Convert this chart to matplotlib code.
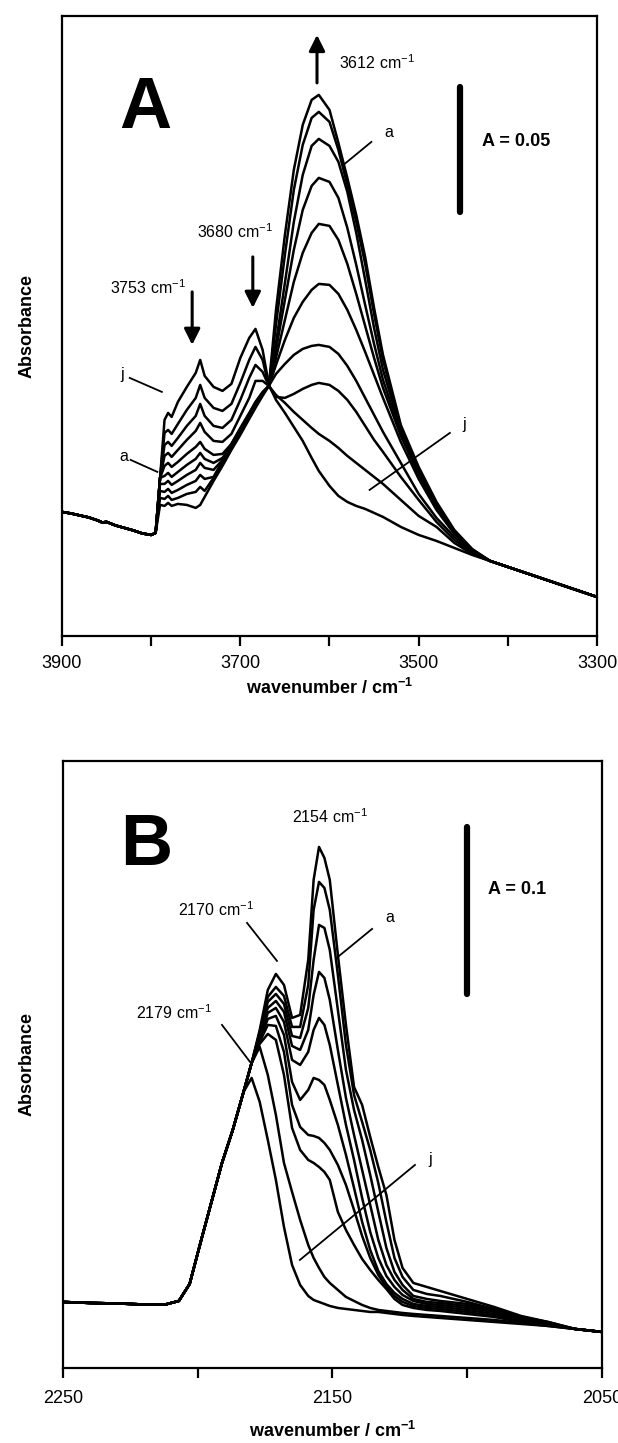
import numpy as np
import matplotlib
matplotlib.use('agg')
from matplotlib import pyplot as plt

plt.rcParams['font.family'] = ['Liberation Sans', 'DejaVu Sans']
plt.rcParams['mathtext.fontset'] = 'custom'
plt.rcParams['mathtext.rm'] = 'Liberation Sans'
plt.rcParams['mathtext.bf'] = 'Liberation Sans:bold'

# ---- panel A: OH stretching region (values in mA, i.e. 1e-3 absorbance) ----
oh_base_wn = [3900, 3890, 3880, 3870, 3860, 3855, 3850, 3840, 3830, 3820, 3810, 3800]
oh_base = [49.6, 49.0, 48.2, 47.4, 46.2, 45.4, 45.6, 44.2, 43.2, 42.2, 41.0, 40.4]

oh_wn = [3795, 3790, 3785, 3781, 3777, 3770, 3760, 3750, 3745, 3740, 3730, 3720,
         3710, 3700, 3690, 3683, 3675, 3668, 3660, 3650, 3640, 3630, 3620, 3612,
         3600, 3590, 3580, 3570, 3560, 3550, 3540, 3520, 3500, 3480, 3460, 3440]
oh_a = [41.2, 52.4, 52.0, 53.2, 52.0, 52.8, 52.4, 51.2, 52.4, 55.6, 62.0, 68.0,
        74.4, 80.4, 86.8, 91.2, 96.0, 100.0, 130.4, 160.4, 186.4, 204.4, 214.4, 216.4,
        210.4, 197.2, 183.2, 168.4, 151.6, 131.2, 112.4, 84.4, 67.6, 53.6, 42.4, 34.8]
oh_b = [41.2, 55.2, 54.8, 56.0, 54.4, 55.2, 56.8, 57.6, 59.6, 58.0, 63.2, 69.6,
        76.0, 82.0, 88.0, 92.4, 96.8, 100.0, 124.4, 152.4, 178.4, 196.4, 207.2, 209.6,
        205.6, 194.4, 180.4, 165.6, 148.8, 128.8, 110.4, 83.2, 66.8, 52.8, 42.0, 34.4]
oh_c = [41.2, 58.0, 57.6, 58.8, 57.2, 58.4, 60.4, 62.0, 64.4, 62.8, 63.6, 70.0,
        76.4, 82.4, 88.4, 92.8, 97.2, 100.0, 117.2, 141.2, 165.6, 184.4, 196.0, 198.8,
        196.0, 189.6, 177.6, 161.2, 142.4, 123.2, 106.4, 82.4, 66.4, 52.4, 41.6, 34.4]
oh_d = [41.2, 60.8, 60.8, 62.0, 60.4, 62.0, 64.4, 66.4, 69.2, 67.2, 66.4, 70.4,
        76.8, 82.8, 88.8, 93.2, 97.2, 100.0, 114.4, 134.4, 154.4, 170.4, 180.0, 183.2,
        181.6, 175.2, 163.2, 148.4, 132.4, 116.8, 102.4, 81.2, 65.6, 52.0, 41.6, 34.4]
oh_e = [41.2, 63.2, 64.0, 65.2, 63.6, 65.6, 68.4, 70.8, 73.2, 70.8, 69.2, 71.2,
        76.0, 82.4, 88.8, 93.2, 97.2, 100.0, 111.2, 126.4, 141.6, 153.2, 161.2, 164.8,
        164.0, 158.4, 148.8, 136.8, 124.0, 111.2, 99.2, 80.0, 64.4, 51.2, 41.2, 34.0]
oh_f = [41.2, 63.2, 68.0, 69.2, 67.6, 69.6, 72.8, 75.6, 77.6, 74.8, 72.4, 72.8,
        76.8, 83.2, 89.2, 93.6, 97.6, 100.0, 108.4, 118.4, 127.2, 133.6, 138.4, 140.8,
        140.4, 136.8, 130.4, 122.4, 113.6, 104.4, 95.2, 77.6, 62.8, 50.4, 40.8, 34.0]
oh_g = [41.2, 63.2, 72.0, 73.2, 71.6, 74.4, 78.4, 82.0, 85.2, 81.6, 78.0, 77.6,
        80.8, 88.0, 95.2, 102.0, 102.0, 100.0, 104.8, 108.8, 112.4, 114.8, 116.0, 116.4,
        115.6, 112.8, 108.0, 102.0, 95.2, 88.4, 81.6, 69.2, 56.8, 47.2, 39.6, 33.6]
oh_h = [41.2, 63.2, 76.4, 77.6, 76.0, 79.2, 84.0, 88.0, 92.8, 88.0, 84.0, 83.2,
        86.4, 94.4, 103.2, 108.4, 105.6, 100.0, 95.6, 95.2, 96.8, 98.8, 100.4, 101.2,
        100.4, 98.0, 94.4, 89.6, 84.0, 78.4, 73.6, 63.6, 54.4, 45.6, 38.4, 33.2]
oh_i = [41.2, 63.2, 81.2, 82.4, 80.8, 84.8, 90.4, 95.2, 100.4, 95.2, 91.2, 90.0,
        92.8, 101.2, 110.4, 115.6, 110.4, 100.0, 96.4, 93.2, 89.6, 86.4, 83.2, 80.8,
        78.0, 75.2, 72.0, 69.2, 66.4, 63.6, 60.8, 54.4, 48.0, 43.6, 37.2, 32.8]
oh_j = [41.2, 63.2, 86.4, 89.2, 87.6, 93.6, 99.6, 105.2, 110.4, 104.0, 99.6, 98.0,
        100.8, 111.2, 119.2, 122.8, 114.4, 100.4, 94.4, 89.2, 83.6, 78.0, 71.2, 66.0,
        60.0, 56.0, 53.6, 52.0, 50.8, 49.2, 47.6, 43.6, 40.4, 38.0, 35.2, 32.4]

oh_tail_wn = [3420, 3400, 3380, 3360, 3340, 3320, 3300]
oh_tail = [30.0, 27.6, 25.2, 22.8, 20.4, 18.0, 15.6]

# ---- panel B: adsorbed CO region (mA) ----
co_base_wn = [2250, 2240, 2230, 2220, 2212, 2207]
co_base = [39.6, 39.0, 38.7, 38.1, 38.1, 40.2]

co_wn = [2203, 2199, 2195, 2191, 2187, 2183, 2180, 2177, 2174, 2171, 2168, 2165,
         2162, 2159, 2157, 2155, 2153, 2151, 2148, 2145, 2142, 2139, 2136, 2133,
         2130, 2127, 2124, 2120, 2115, 2110, 2100, 2090, 2080, 2070]
co_a = [50.4, 75.0, 99.0, 123.0, 142.8, 165.6, 183.0, 202.8, 226.8, 236.4, 229.8, 210.0,
        211.8, 244.8, 292.8, 312.6, 306.0, 292.8, 247.8, 205.8, 168.6, 157.8, 138.6, 120.6,
        103.8, 76.8, 60.0, 51.0, 48.6, 46.2, 41.4, 36.6, 31.2, 27.6]
co_b = [50.4, 75.0, 99.0, 123.0, 142.8, 165.6, 183.0, 201.6, 222.6, 228.6, 223.2, 204.6,
        204.6, 229.8, 274.8, 291.6, 288.0, 274.8, 235.8, 193.8, 163.8, 147.6, 130.8, 111.0,
        87.6, 66.0, 54.6, 46.8, 44.4, 43.2, 39.6, 35.4, 30.6, 27.6]
co_c = [50.4, 75.0, 99.0, 123.0, 142.8, 165.6, 183.0, 200.4, 219.6, 224.4, 218.4, 199.2,
        198.0, 216.0, 244.8, 265.8, 264.0, 250.8, 214.8, 178.8, 154.8, 136.8, 115.8, 93.6,
        72.0, 57.6, 49.8, 43.2, 41.4, 40.2, 38.4, 34.8, 30.6, 27.0]
co_d = [50.4, 75.0, 99.0, 123.0, 142.8, 165.6, 183.0, 199.2, 216.0, 220.2, 213.6, 193.2,
        190.8, 202.8, 223.8, 237.6, 234.0, 220.8, 190.8, 162.0, 139.8, 118.8, 97.8, 76.8,
        61.8, 52.8, 46.8, 41.4, 39.6, 39.0, 37.2, 34.2, 30.0, 27.0]
co_e = [50.4, 75.0, 99.0, 123.0, 142.8, 165.6, 183.0, 198.0, 213.0, 216.0, 207.6, 184.8,
        181.8, 189.6, 202.8, 210.0, 205.8, 193.8, 169.8, 145.8, 124.8, 102.0, 81.6, 66.0,
        55.2, 48.6, 43.8, 40.2, 38.4, 37.8, 36.0, 33.6, 29.4, 26.4]
co_f = [50.4, 75.0, 99.0, 123.0, 142.8, 165.6, 183.0, 196.8, 209.4, 211.2, 199.8, 171.6,
        160.8, 166.8, 174.0, 172.8, 169.8, 160.8, 145.8, 127.8, 108.0, 87.6, 70.8, 58.2,
        50.4, 45.0, 41.4, 38.4, 37.2, 36.6, 34.8, 32.4, 28.8, 26.4]
co_g = [50.4, 75.0, 99.0, 123.0, 142.8, 165.6, 183.0, 195.6, 205.8, 205.2, 189.6, 157.8,
        144.6, 139.8, 139.2, 138.0, 135.0, 130.8, 121.8, 109.8, 94.8, 79.2, 66.0, 55.8,
        48.6, 43.2, 39.6, 37.2, 36.0, 35.4, 33.6, 31.2, 28.2, 25.8]
co_h = [50.4, 75.0, 99.0, 123.0, 142.8, 165.6, 183.0, 194.4, 200.4, 196.8, 175.8, 144.0,
        130.8, 124.8, 123.0, 120.6, 117.6, 112.8, 93.6, 82.8, 73.8, 65.4, 58.8, 52.8,
        47.4, 41.4, 37.8, 36.0, 34.8, 34.2, 32.4, 30.6, 27.6, 25.8]
co_i = [50.4, 75.0, 99.0, 123.0, 142.8, 165.6, 183.0, 192.6, 175.8, 151.8, 123.0, 105.6,
        88.8, 73.8, 66.0, 60.0, 54.6, 51.0, 46.8, 42.6, 40.2, 37.8, 36.0, 34.8,
        34.2, 33.6, 33.0, 32.4, 31.8, 31.2, 30.0, 28.8, 27.0, 25.2]
co_j = [50.4, 75.0, 99.0, 123.0, 142.8, 165.6, 174.0, 159.6, 136.8, 112.8, 84.6, 61.8,
        49.8, 43.2, 40.8, 39.6, 38.4, 37.2, 36.0, 35.4, 34.8, 34.2, 33.6, 33.6,
        33.0, 32.4, 31.8, 31.2, 30.6, 30.0, 28.8, 27.6, 26.4, 25.2]

co_tail_wn = [2060, 2050]
co_tail = [23.4, 21.6]


def draw_spectra(ax, base_wn, base, wn, curves, tail_wn, tail):
    """Plot every spectrum as baseline + own points + common tail."""
    x = np.concatenate([base_wn, wn, tail_wn])
    for vals in curves:
        y = np.concatenate([base, vals, tail]) / 1000.0
        ax.plot(x, y, color='black', lw=1.8, solid_joinstyle='round')


def style_axes(ax, xlim, ylim, major, minor, pad=7, labelpad=4):
    ax.set_xlim(*xlim)
    ax.set_ylim(*ylim)
    ax.set_xticks(major)
    ax.set_xticks(minor, minor=True)
    ax.set_yticks([])
    ax.tick_params(axis='x', which='both', direction='out', length=7,
                   width=1.6, labelsize=13, pad=pad)
    for s in ax.spines.values():
        s.set_linewidth(1.6)
    ax.set_xlabel(r'wavenumber / cm$^{\mathbf{-1}}$', fontsize=13,
                  fontweight='bold', labelpad=labelpad)
    ax.set_ylabel('Absorbance', fontsize=13, fontweight='bold')
    ax.yaxis.set_label_coords(-0.05, 0.5)


def leader(ax, p0, p1):
    ax.plot([p0[0], p1[0]], [p0[1], p1[1]], color='black', lw=1.3)


def arrow(ax, x, y_from, y_to):
    ax.annotate('', xy=(x, y_to), xytext=(x, y_from),
                arrowprops=dict(arrowstyle='-|>,head_length=0.8,head_width=0.4',
                                lw=2.2, color='black', shrinkA=0, shrinkB=0,
                                mutation_scale=12))


fig = plt.figure(figsize=(6.18, 14.43), dpi=100)
axA = fig.add_axes([0.1003, 0.5593, 0.8657, 0.4297])
axB = fig.add_axes([0.1019, 0.0520, 0.8722, 0.4207])

# panel A
draw_spectra(axA, oh_base_wn, oh_base, oh_wn,
             [oh_a, oh_b, oh_c, oh_d, oh_e, oh_f, oh_g, oh_h, oh_i, oh_j],
             oh_tail_wn, oh_tail)
style_axes(axA, (3900, 3300), (0, 0.248), [3900, 3700, 3500, 3300],
           [3800, 3600, 3400])
axA.text(3807, 0.2108, 'A', fontsize=52, fontweight='bold', ha='center', va='center')
axA.plot([3454, 3454], [0.1696, 0.2196], color='black', lw=4.5, solid_capstyle='round')
axA.text(3429, 0.1976, 'A = 0.05', fontsize=13, fontweight='bold', va='center')
arrow(axA, 3614, 0.2212, 0.2404)
axA.text(3589, 0.2292, r'3612 cm$^{-1}$', fontsize=11.5, va='center')
arrow(axA, 3686, 0.1516, 0.1312)
axA.text(3749, 0.1616, r'3680 cm$^{-1}$', fontsize=11.5, va='center')
arrow(axA, 3754, 0.1376, 0.1164)
axA.text(3846, 0.1392, r'3753 cm$^{-1}$', fontsize=11.5, va='center')
axA.text(3538, 0.2012, 'a', fontsize=11.5, va='center')
leader(axA, (3553, 0.1976), (3583, 0.1888))
axA.text(3835, 0.1044, 'j', fontsize=11.5, va='center')
leader(axA, (3824, 0.1032), (3788, 0.0976))
axA.text(3836, 0.0716, 'a', fontsize=11.5, va='center')
leader(axA, (3823, 0.0704), (3793, 0.0656))
axA.text(3451, 0.0844, 'j', fontsize=11.5, va='center')
leader(axA, (3465, 0.0812), (3555, 0.0584))

# panel B
draw_spectra(axB, co_base_wn, co_base, co_wn,
             [co_a, co_b, co_c, co_d, co_e, co_f, co_g, co_h, co_i, co_j],
             co_tail_wn, co_tail)
style_axes(axB, (2250, 2050), (0, 0.3642), [2250, 2150, 2050], [2200, 2100],
           pad=9, labelpad=10)
axB.text(2219, 0.3132, 'B', fontsize=52, fontweight='bold', ha='center', va='center')
axB.plot([2100, 2100], [0.2246, 0.3246], color='black', lw=4.5, solid_capstyle='round')
axB.text(2092.3, 0.2868, 'A = 0.1', fontsize=13, fontweight='bold', va='center')
axB.text(2165, 0.3306, r'2154 cm$^{-1}$', fontsize=11.5, va='center')
axB.text(2207.3, 0.2748, r'2170 cm$^{-1}$', fontsize=11.5, va='center')
leader(axB, (2181.7, 0.2670), (2170.6, 0.2442))
axB.text(2194.7, 0.2130, r'2179 cm$^{-1}$', fontsize=11.5, va='center', ha='right')
leader(axB, (2191.0, 0.2058), (2180.6, 0.1836))
axB.text(2130.5, 0.2700, 'a', fontsize=11.5, va='center')
leader(axB, (2135.3, 0.2634), (2148.0, 0.2466))
axB.text(2114.6, 0.1248, 'j', fontsize=11.5, va='center')
leader(axB, (2119.4, 0.1218), (2162.1, 0.0648))

fig.savefig('out.png', dpi=100)
plt.close(fig)
